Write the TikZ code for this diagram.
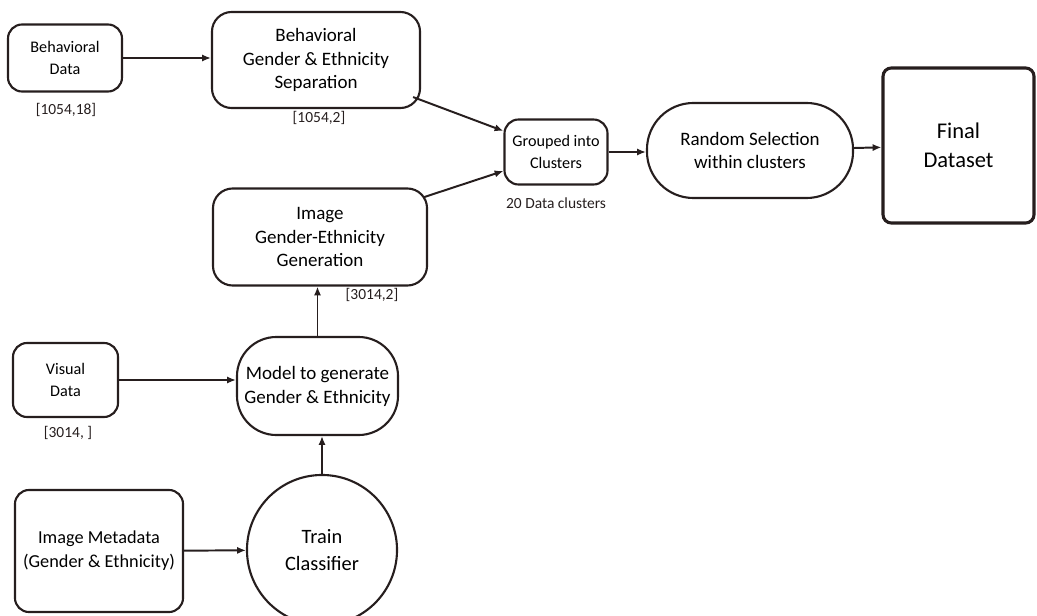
\documentclass[tikz,border=0pt]{standalone}
\usepackage{fontspec}
\setmainfont{Carlito}
\usepackage{tikz}
\usetikzlibrary{arrows.meta, positioning, calc}
\definecolor{figink}{RGB}{38,30,30}
\tikzstyle{databox} = [rectangle, rounded corners=10pt,
draw=figink, line width=1.5pt, inner sep=0pt,
align=center, font=\fontsize{11.5}{15.5}\selectfont]
\tikzstyle{stepbox} = [rectangle, rounded corners=14pt,
draw=figink, line width=1.5pt, inner sep=0pt,
align=center, font=\fontsize{13.5}{17}\selectfont]
\tikzstyle{pillbox} = [stepbox, rounded corners=28pt]
\tikzstyle{trainnode} = [circle, draw=figink, line width=1.5pt,
minimum size=3.75cm, align=center, font=\fontsize{14.5}{19}\selectfont]
\tikzstyle{sizelabel} = [inner sep=0pt, text=figink, font=\fontsize{11}{13}\selectfont]
\tikzstyle{arrow} = [-{Latex[length=2.2mm, width=1.8mm]}, line width=1.4pt, draw=figink]

\begin{document}
\begin{tikzpicture}[x=0.025cm, y=-0.025cm]
    \useasboundingbox (0,0) rectangle (1037,616);
    % behavioral branch
    \node (bdata) [databox, minimum width=2.85cm, minimum height=1.675cm]
        at (65,58) {Behavioral\\Data};
    \node (bsep) [stepbox, minimum width=5.2cm, minimum height=2.4cm]
        at (316,60) {Behavioral\\Gender \& Ethnicity\\Separation};
    \node (bdatasize) [sizelabel] at (66,110) {[1054,18]};
    \node (bsepsize) [sizelabel] at (319,118) {[1054,2]};

    % clusters and output
    \node (group) [databox, minimum width=2.575cm, minimum height=1.625cm]
        at (556,152) {Grouped into\\Clusters};
    \node (groupsize) [sizelabel, below=0.3cm of group] {20 Data clusters};
    \node (rsel) [pillbox, rounded corners=33pt, minimum width=5.15cm, minimum height=2.375cm]
        at (750,150.5) {Random Selection\\within clusters};
    \node (final) [stepbox, rounded corners=6pt, line width=2.2pt, minimum width=3.775cm,
        minimum height=3.875cm, font=\fontsize{16}{21}\selectfont]
        at (958.5,145.5) {Final\\Dataset};

    % image branch
    \node (igen) [stepbox, minimum width=5.35cm, minimum height=2.425cm]
        at (320,237) {Image\\Gender-Ethnicity\\Generation};
    \node (igensize) [sizelabel] at (372,295) {[3014,2]};
    \node (model) [pillbox, minimum width=4.025cm, minimum height=2.45cm]
        at (317.5,386) {Model to generate\\Gender \& Ethnicity};
    \node (vdata) [databox, minimum width=2.625cm, minimum height=1.85cm]
        at (65.5,380) {Visual\\Data};
    \node (vdatasize) [sizelabel] at (68,433) {[3014, ]};
    \node (imeta) [stepbox, rounded corners=10pt, minimum width=4.2cm, minimum height=3.05cm,
        font=\fontsize{13}{17}\selectfont]
        at (99,551) {Image Metadata\\(Gender \& Ethnicity)};
    \node (train) [trainnode] at (322,550) {Train\\Classifier};

    \draw[arrow] (bdata.east) -- (bdata.east -| bsep.west);
    \draw[arrow] ($(bsep.south east)+(-8,-12)$) -- ($(group.west)+(0,-21)$);
    \draw[arrow] ($(igen.north east)+(-5,10)$) -- ($(group.west)+(0,19)$);
    \draw[arrow] (group.east) -- (group.east -| rsel.west);
    \draw[arrow] (rsel) -- (final);
    \draw[arrow] (model.north) -- (model.north |- igen.south);
    \draw[arrow] (vdata.east) -- (vdata.east -| model.west);
    \draw[arrow] (imeta) -- (train);
    \draw[arrow] (train.north) -- (train.north |- model.south);
\end{tikzpicture}
\end{document}
